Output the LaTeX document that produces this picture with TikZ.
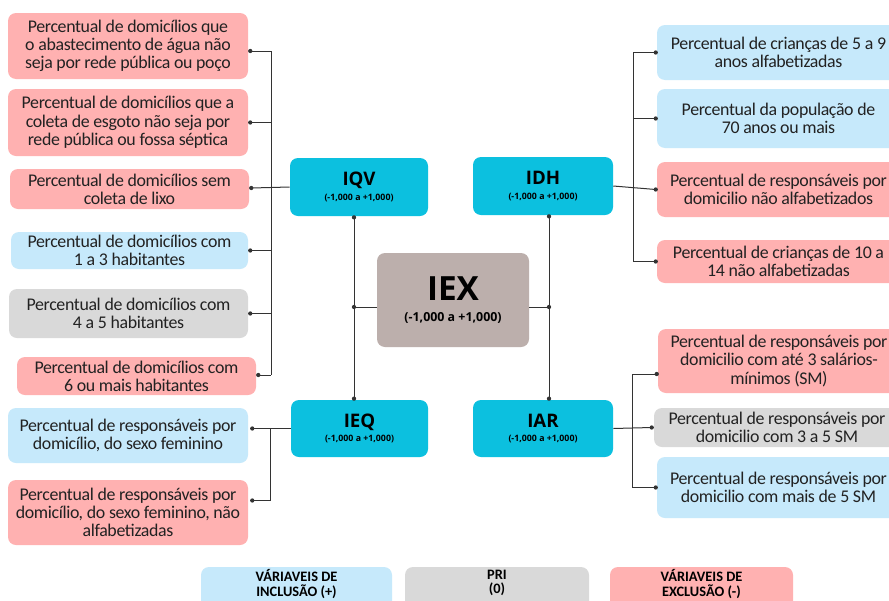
\documentclass[tikz,border=0pt]{standalone}
\usepackage{fontspec}
\setmainfont{Carlito}[LetterSpace=-2.0]
\newfontfamily\legfont{Carlito}
\newfontfamily\headfont{Open Sans}
\usetikzlibrary{calc}
\definecolor{pinkbox}{HTML}{FFB1B1}
\definecolor{bluebox}{HTML}{C6E9FB}
\definecolor{graybox}{HTML}{D9D9D9}
\definecolor{cyanbox}{HTML}{0CC0DF}
\definecolor{iexbox}{HTML}{BCAFAC}
\definecolor{txt}{HTML}{222222}
\definecolor{ln}{HTML}{333333}
\begin{document}
\begin{tikzpicture}[x=0.75pt,y=-0.75pt,
  wh/.style 2 args={minimum width=#1*0.75pt, minimum height=#2*0.75pt},
  base/.style={rounded corners=6pt, inner sep=0pt, text=txt, align=center},
  item/.style={base, font=\fontsize{13.4}{13.7}\selectfont},
  pinkitem/.style={item, fill=pinkbox},
  blueitem/.style={item, fill=bluebox},
  grayitem/.style={item, fill=graybox},
  ind/.style={base, fill=cyanbox, text=black, wh={138}{58}},
  legend/.style={base, fill=none, text=black, font=\legfont\bfseries\fontsize{10.8}{10.8}\selectfont, anchor=north},
  legbox/.style={rounded corners=6pt, draw=none},
  link/.style={draw=ln, line width=0.75pt},
  dotc/.style={fill=ln}
]
\clip (0,0) rectangle (889,600);
\fill[white] (0,0) rectangle (889,600);

% ---------- left items ----------
\node[pinkitem, wh={240}{66}] (L1) at (128,46) {Percentual de domicílios que\\o abastecimento de água não\\seja por rede pública ou poço};
\node[pinkitem, wh={240}{67}] (L2) at (128,122.5) {Percentual de domicílios que a\\coleta de esgoto não seja por\\rede pública ou fossa séptica};
\node[pinkitem, wh={239}{40}] (L3) at (129.5,189) {Percentual de domicílios sem\\coleta de lixo};
\node[blueitem, wh={237}{37}] (L4) at (129.5,250.5) {Percentual de domicílios com\\1 a 3 habitantes};
\node[grayitem, wh={239}{49}] (L5) at (128.5,313.5) {Percentual de domicílios com\\4 a 5 habitantes};
\node[pinkitem, wh={239}{38}] (L6) at (136.5,376) {Percentual de domicílios com\\6 ou mais habitantes};
\node[blueitem, wh={240}{55}] (L7) at (128,435.5) {Percentual de responsáveis por\\domicílio, do sexo feminino};
\node[pinkitem, wh={240}{65}] (L8) at (128,512.5) {Percentual de responsáveis por\\domicílio, do sexo feminino, não\\alfabetizadas};

% ---------- indices ----------
\node[ind] (IQV) at (359,187) {{\headfont\bfseries\fontsize{14}{14}\selectfont IQV}\\[-1pt]{\headfont\bfseries\fontsize{6.6}{7}\selectfont (-1,000 a +1,000)}};
\node[ind, wh={140}{58}] (IDH) at (543,186) {{\headfont\bfseries\fontsize{14}{14}\selectfont IDH}\\[-1pt]{\headfont\bfseries\fontsize{6.6}{7}\selectfont (-1,000 a +1,000)}};
\node[ind, wh={137}{57}] (IEQ) at (359.5,428.5) {{\headfont\bfseries\fontsize{14}{14}\selectfont IEQ}\\[-1pt]{\headfont\bfseries\fontsize{6.6}{7}\selectfont (-1,000 a +1,000)}};
\node[ind, wh={140}{57}] (IAR) at (543,428.5) {{\headfont\bfseries\fontsize{14}{14}\selectfont IAR}\\[-1pt]{\headfont\bfseries\fontsize{6.6}{7}\selectfont (-1,000 a +1,000)}};
\node[base, fill=iexbox, text=black, wh={152}{94}] (IEX) at (453,300) {{\headfont\bfseries\fontsize{25}{25}\selectfont IEX}\\[4pt]{\headfont\bfseries\fontsize{9.3}{10}\selectfont (-1,000 a +1,000)}};

% ---------- right items ----------
\node[blueitem, wh={243}{55}] (R1) at (778.5,52.5) {Percentual de crianças de 5 a 9\\anos alfabetizadas};
\node[blueitem, wh={243}{59}] (R2) at (778.5,118.5) {Percentual da população de\\70 anos ou mais};
\node[pinkitem, wh={243}{55}] (R3) at (778.5,189.5) {Percentual de responsáveis por\\domicilio não alfabetizados};
\node[pinkitem, wh={243}{43}] (R4) at (778.5,261.5) {Percentual de crianças de 10 a\\14 não alfabetizadas};
\node[pinkitem, wh={242}{64}] (R5) at (779,361) {Percentual de responsáveis por\\domicilio com até 3 salários-\\mínimos (SM)};
\node[grayitem, wh={246}{39}] (R6) at (777,427.5) {Percentual de responsáveis por\\domicilio com 3 a 5 SM};
\node[blueitem, wh={243}{61}] (R7) at (778.5,487.5) {Percentual de responsáveis por\\domicilio com mais de 5 SM};

% ---------- legend ----------
\fill[legbox, bluebox] (201,567) rectangle (392,615);
\fill[legbox, graybox] (405,567) rectangle (589,615);
\fill[legbox, pinkbox] (610,567) rectangle (793,615);
\node[legend] (LG1) at (296.5,569.5) {VÁRIAVEIS DE\\INCLUSÃO (+)};
\node[legend] (LG2) at (497,569.5) {PRI\\(0)};
\node[legend] (LG3) at (701.5,569.5) {VÁRIAVEIS DE\\EXCLUSÃO (-)};

% ---------- connectors: IQV group ----------
\coordinate (busA) at (271,0);
\coordinate (l1) at ([xshift=1.5pt,yshift=-3.75pt]L1.east);
\coordinate (l2) at ([xshift=1.5pt]L2.east);
\coordinate (l3) at ([xshift=1.5pt,yshift=0.75pt]L3.east);
\coordinate (l4) at ([xshift=1.5pt]L4.east);
\coordinate (l5) at ([xshift=1.5pt]L5.east);
\coordinate (l6) at ([xshift=1.5pt,yshift=0.75pt]L6.east);
\foreach \p in {l1,l2,l4,l5,l6} {\draw[link] (\p) -- (\p -| busA); \fill[dotc] (\p) circle (1.6pt);}
\draw[link] (IQV.west) -- (l3);
\fill[dotc] (l3) circle (1.6pt);
\draw[link] (l1 -| busA) -- (l6 -| busA);

% IQV - IEQ vertical, IEX links
\coordinate (qv) at ([xshift=-3.75pt,yshift=-0.8pt]IQV.south);
\coordinate (eq) at (qv |- IEQ.north);
\draw[link] (qv) -- (eq);
\fill[dotc] (qv) circle (1.6pt);
\fill[dotc] ([yshift=0.8pt]eq) circle (1.6pt);
\coordinate (iexl) at ([yshift=-5.25pt]IEX.west);
\draw[link] (iexl) -- (iexl -| qv);
\fill[dotc] (iexl -| qv) circle (1.6pt);

\coordinate (dh) at ([xshift=4.5pt,yshift=-0.8pt]IDH.south);
\coordinate (ar) at (dh |- IAR.north);
\draw[link] (dh) -- (ar);
\fill[dotc] (dh) circle (1.6pt);
\fill[dotc] ([yshift=0.8pt]ar) circle (1.6pt);
\coordinate (iexr) at ([yshift=-5.25pt]IEX.east);
\draw[link] (iexr) -- (iexr -| dh);
\fill[dotc] (iexr -| dh) circle (1.6pt);

% IEQ group
\coordinate (busB) at (270,0);
\coordinate (l7) at ([xshift=3pt,yshift=6pt]L7.east);
\coordinate (l8) at ([xshift=3pt,yshift=9pt]L8.east);
\draw[link] (IEQ.west) -- (IEQ.west -| l7);
\draw[link] (l8) -- (l8 -| busB) -- (l7 -| busB);
\fill[dotc] (IEQ.west -| l7) circle (1.6pt);
\fill[dotc] (l8) circle (1.6pt);

% IDH group
\coordinate (busC) at (633,0);
\coordinate (r1) at ([xshift=-0.75pt]R1.west);
\coordinate (r2) at ([xshift=-0.75pt]R2.west);
\coordinate (r3) at ([xshift=-0.75pt]R3.west);
\coordinate (r4) at ([xshift=-0.75pt]R4.west);
\foreach \p in {r1,r2,r4} {\draw[link] (\p) -- (\p -| busC); \fill[dotc] (\p) circle (1.6pt);}
\draw[link] (IDH.east) -- (r3);
\fill[dotc] (r3) circle (1.6pt);
\draw[link] (r1 -| busC) -- (r4 -| busC);

% IAR group
\coordinate (busD) at (632,0);
\coordinate (r5) at ([xshift=-0.75pt,yshift=-9.75pt]R5.west);
\coordinate (r6) at ([xshift=-1.5pt]R6.west);
\coordinate (r7) at ([xshift=-0.75pt]R7.west);
\foreach \p in {r5,r7} {\draw[link] (\p) -- (\p -| busD); \fill[dotc] (\p) circle (1.6pt);}
\draw[link] (IAR.east) -- (r6);
\fill[dotc] (r6) circle (1.6pt);
\draw[link] (r5 -| busD) -- (r7 -| busD);
\end{tikzpicture}
\end{document}
